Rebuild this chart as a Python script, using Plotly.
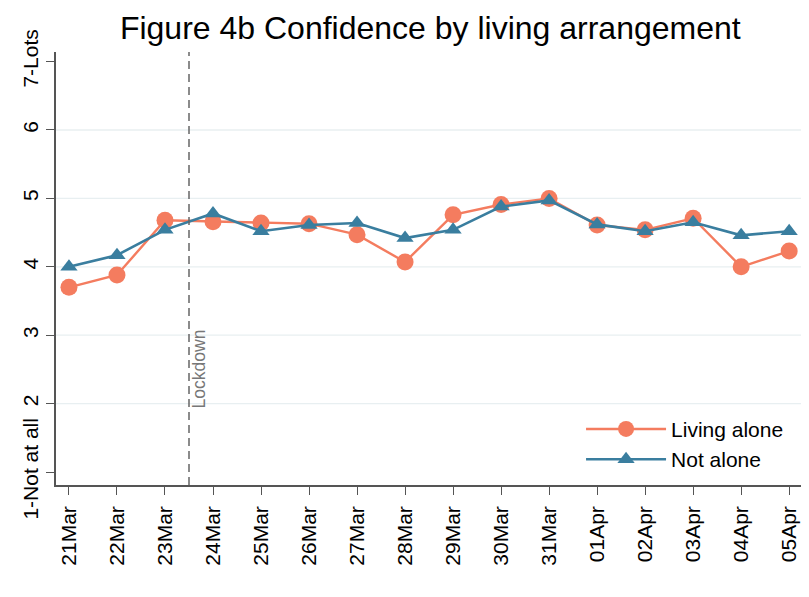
import plotly.graph_objects as go

dates = ["21Mar", "22Mar", "23Mar", "24Mar", "25Mar", "26Mar", "27Mar", "28Mar",
         "29Mar", "30Mar", "31Mar", "01Apr", "02Apr", "03Apr", "04Apr", "05Apr"]
living_alone = [3.70, 3.88, 4.68, 4.66, 4.64, 4.63, 4.47, 4.07,
                4.76, 4.91, 5.00, 4.61, 4.54, 4.71, 4.00, 4.23]
not_alone = [4.00, 4.17, 4.54, 4.78, 4.52, 4.61, 4.64, 4.42,
             4.54, 4.88, 4.97, 4.62, 4.52, 4.65, 4.46, 4.52]
y_ticks = [1, 2, 3, 4, 5, 6, 7]
y_ticklabels = ["1-Not at all", "2", "3", "4", "5", "6", "7-Lots"]
lockdown_pos = 2.5

ORANGE = "#f47c5f"
BLUE = "#3a7e9f"
FONT = "Liberation Sans, Arial, sans-serif"

x = list(range(len(dates)))

fig = go.Figure()
fig.add_trace(go.Scatter(x=x, y=living_alone, mode="lines+markers", name="Living alone",
                         line=dict(color=ORANGE, width=2.4),
                         marker=dict(symbol="circle", size=17, color=ORANGE)))
fig.add_trace(go.Scatter(x=x, y=not_alone, mode="lines+markers", name="Not alone",
                         line=dict(color=BLUE, width=2.6),
                         marker=dict(symbol="triangle-up", size=15, color=BLUE)))

# gridlines
shapes = []
for v in y_ticks[1:-1]:
    shapes.append(dict(type="line", xref="paper", yref="y", x0=0, x1=1, y0=v, y1=v,
                       line=dict(color="#e8eff1", width=1.3), layer="below"))
shapes.append(dict(type="line", xref="x", yref="paper", x0=lockdown_pos, x1=lockdown_pos,
                   y0=0, y1=1, line=dict(color="#666666", width=1.5, dash="8px,5px")))

fig.update_layout(
    width=809, height=597,
    margin=dict(l=48, r=12, t=44, b=120),
    paper_bgcolor="white", plot_bgcolor="white",
    font=dict(family=FONT, color="black"),
    title=dict(text="Figure 4b Confidence by living arrangement", x=0.522, xanchor="center",
               y=0.966, yanchor="middle", font=dict(size=32, family=FONT, color="black")),
    shapes=shapes,
    showlegend=True,
    legend=dict(x=0.701, y=0.176, xanchor="left", yanchor="top", bgcolor="rgba(0,0,0,0)",
                font=dict(size=21, family=FONT), itemwidth=80, tracegroupgap=0),
    annotations=[dict(text="Lockdown", x=lockdown_pos, y=2.5, xref="x", yref="y",
                      textangle=-90, showarrow=False, xshift=10,
                      font=dict(size=17.5, color="#777777", family=FONT))],
)
fig.update_xaxes(range=[-0.27, 15.33], tickvals=x, ticktext=dates, tickangle=-90,
                 showline=True, linecolor="#555555", linewidth=1.5, automargin=False,
                 ticks="outside", ticklen=8, tickcolor="#555555", showgrid=False,
                 ticklabelstandoff=3,
                 zeroline=False, tickfont=dict(size=21, family=FONT))
fig.update_yaxes(range=[0.81, 7.14], tickvals=y_ticks, ticktext=y_ticklabels, tickangle=-90,
                 showline=True, linecolor="#555555", linewidth=1.5, automargin=False,
                 ticks="outside", ticklen=8, tickcolor="#555555", showgrid=False,
                 zeroline=False, tickfont=dict(size=21, family=FONT))

fig.write_html("out.html")
